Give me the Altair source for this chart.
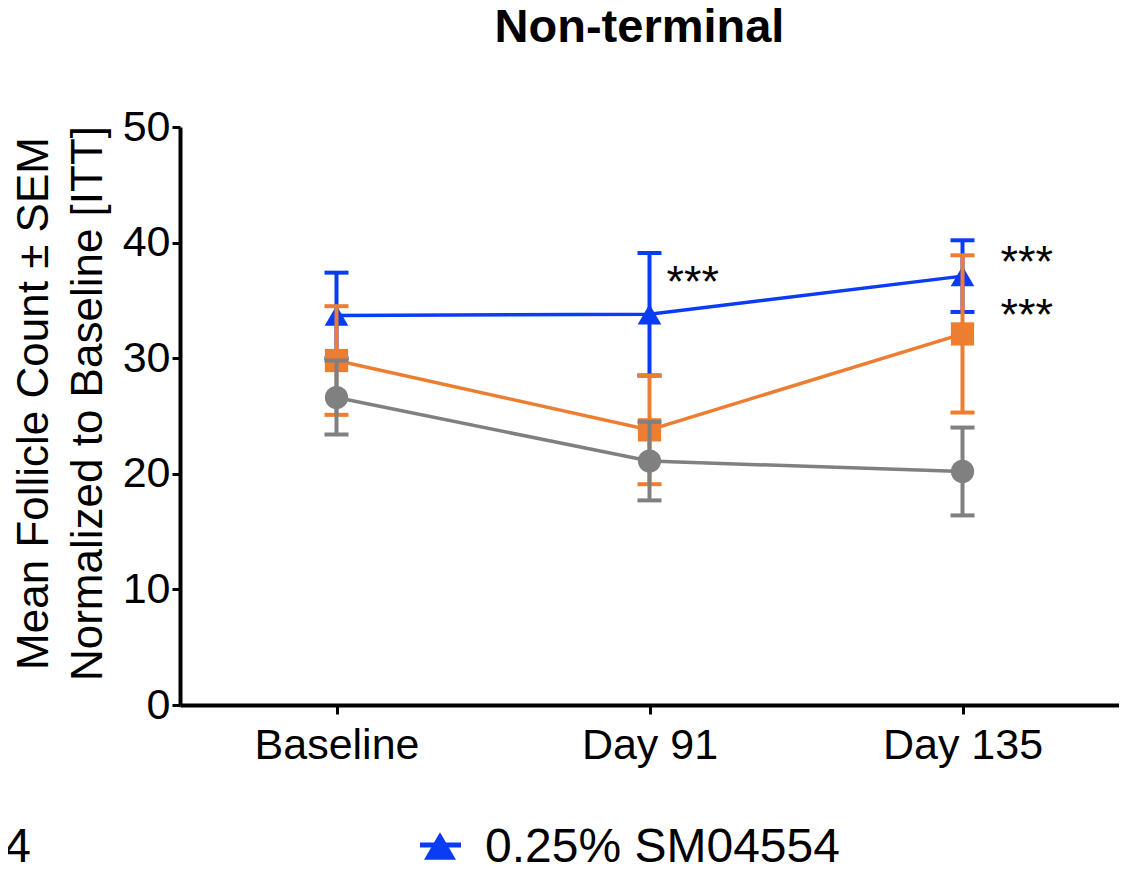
import altair as alt
import pandas as pd

# ---- data ----
days = ["Baseline", "Day 91", "Day 135"]
series_names = ["Vehicle", "0.1% SM04554", "0.25% SM04554"]
gray_mean = [26.6, 21.1, 20.2]
gray_sem = [3.2, 3.4, 3.8]
orange_mean = [29.8, 23.8, 32.1]
orange_sem = [4.7, 4.7, 6.8]
blue_mean = [33.7, 33.8, 37.1]
blue_sem = [3.7, 5.3, 3.1]
y_ticks = [0, 10, 20, 30, 40, 50]

star_a_day = ["Day 91"]
star_a_y = [37.4]
star_b_day = ["Day 135", "Day 135"]
star_b_y = [39.1, 34.5]

colors = {"Vehicle": "#808080", "0.1% SM04554": "#ED7D31", "0.25% SM04554": "#0A3CF5"}
shapes = {"Vehicle": "circle", "0.1% SM04554": "square", "0.25% SM04554": "triangle-up"}

FONT = "Liberation Sans"

rows = []
for name, means, sems in zip(series_names, [gray_mean, orange_mean, blue_mean],
                             [gray_sem, orange_sem, blue_sem]):
    for d, m, s in zip(days, means, sems):
        rows.append({"series": name, "day": d, "mean": m, "lo": m - s, "hi": m + s})
df = pd.DataFrame(rows)

x_enc = alt.X("day:N", sort=days,
              scale=alt.Scale(type="point", padding=0.5, domain=days),
              axis=alt.Axis(title=None, labelFontSize=43, labelFont=FONT, labelColor="black",
                            domainColor="black", domainWidth=4, tickColor="black",
                            tickWidth=3, tickSize=9, labelPadding=10, labelAngle=0,
                            grid=False))
y_scale = alt.Scale(domain=[0, 50], nice=False)
y_axis = alt.Axis(values=y_ticks, title=["Mean Follicle Count ± SEM", "Normalized to Baseline [ITT]"],
                  titleFontSize=44, titleFont=FONT, titleFontWeight="normal", titleColor="black",
                  titleLineHeight=54, titleX=-168, titleY=276, titleBaseline="top",
                  titleAlign="center", titleAngle=270,
                  labelFontSize=43, labelFont=FONT, labelColor="black",
                  domainColor="black", domainWidth=4, tickColor="black",
                  tickWidth=3, tickSize=8, labelPadding=2, grid=False)

layers = []
for name in ["0.25% SM04554", "0.1% SM04554", "Vehicle"]:
    c = colors[name]
    base = alt.Chart(df).transform_filter(alt.datum.series == name)
    rule = base.mark_rule(color=c, strokeWidth=4).encode(
        x=x_enc, y=alt.Y("lo:Q", scale=y_scale, axis=y_axis), y2="hi:Q")
    cap_lo = base.mark_tick(color=c, orient="horizontal", size=24, thickness=4, opacity=1).encode(
        x=x_enc, y=alt.Y("lo:Q", scale=y_scale, axis=y_axis))
    cap_hi = base.mark_tick(color=c, orient="horizontal", size=24, thickness=4, opacity=1).encode(
        x=x_enc, y=alt.Y("hi:Q", scale=y_scale, axis=y_axis))
    line = base.mark_line(color=c, strokeWidth=3.5).encode(
        x=x_enc, y=alt.Y("mean:Q", scale=y_scale, axis=y_axis))
    pts = base.mark_point(color=c, filled=True, opacity=1, shape=shapes[name],
                          size=540 if name != "0.25% SM04554" else 560).encode(
        x=x_enc, y=alt.Y("mean:Q", scale=y_scale, axis=y_axis))
    layers += [rule, cap_lo, cap_hi, line, pts]

stars_a = alt.Chart(pd.DataFrame({"day": star_a_day, "y": star_a_y, "t": ["***"] * len(star_a_day)})).mark_text(
    align="left", baseline="middle", dx=17, dy=10, fontSize=45, font=FONT, color="black").encode(
    x=x_enc, y=alt.Y("y:Q", scale=y_scale, axis=y_axis), text="t:N")
stars_b = alt.Chart(pd.DataFrame({"day": star_b_day, "y": star_b_y, "t": ["***"] * len(star_b_day)})).mark_text(
    align="left", baseline="middle", dx=38, dy=10, fontSize=45, font=FONT, color="black").encode(
    x=x_enc, y=alt.Y("y:Q", scale=y_scale, axis=y_axis), text="t:N")

# manual bottom legend (the left item is cut off by the figure edge)
leg_bar = alt.Chart(pd.DataFrame({"a": [0]})).mark_rule(color=colors["0.25% SM04554"], strokeWidth=5).encode(
    x=alt.value(240), x2=alt.value(281), y=alt.value(718))
leg_sym = alt.Chart(pd.DataFrame({"a": [0]})).mark_point(
    shape="triangle-up", filled=True, opacity=1, size=1024, color=colors["0.25% SM04554"]).encode(
    x=alt.value(260), y=alt.value(719))
leg_text = alt.Chart(pd.DataFrame({"t": ["0.25% SM04554"]})).mark_text(
    align="left", baseline="alphabetic", fontSize=48, font=FONT, color="black").encode(
    x=alt.value(305), y=alt.value(735), text="t:N")
leg_cut = alt.Chart(pd.DataFrame({"t": ["54"]})).mark_text(
    align="right", baseline="alphabetic", fontSize=48, font=FONT, color="black").encode(
    x=alt.value(-149), y=alt.value(735), text="t:N")

chart = alt.layer(*layers, stars_a, stars_b, leg_bar, leg_sym, leg_text, leg_cut).properties(
    width=939, height=578,
    background="white",
    autosize=alt.AutoSizeParams(type="none"),
    padding={"left": 172, "top": 119, "right": 0, "bottom": 159},
    title=alt.TitleParams("Non-terminal", fontSize=47, fontWeight="bold", font=FONT,
                          color="black", anchor="middle", dx=-10, offset=54),
).configure_view(strokeWidth=0, strokeOpacity=0).configure_axis(grid=False)

chart.save("out.html", embed_options={"renderer": "svg", "actions": False})
